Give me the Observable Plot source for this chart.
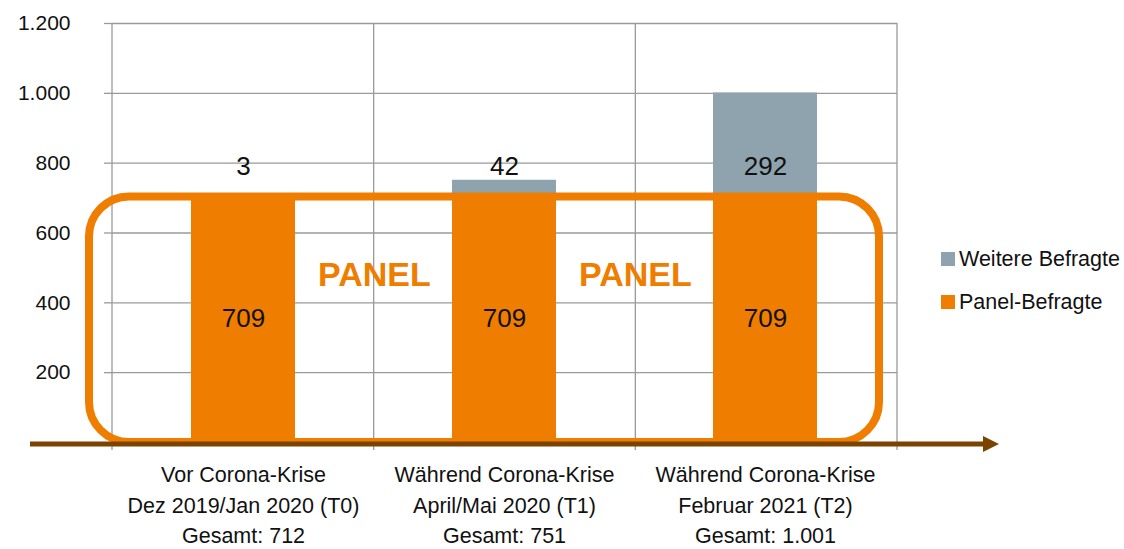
<!DOCTYPE html>
<html>
<head>
<meta charset="utf-8">
<script src="https://cdn.jsdelivr.net/npm/d3@7"></script>
<script src="https://cdn.jsdelivr.net/npm/@observablehq/plot@0.6"></script>
<style>
  html, body { margin: 0; padding: 0; background: #fff; }
  body { font-family: "Liberation Sans Narrow", "Arial Narrow", "Liberation Sans", Arial, sans-serif; }
  #wrap { position: relative; width: 1124px; height: 549px; }
  #legend { position: absolute; left: 941px; top: 245px; font-size: 21.5px; color: #111; white-space: nowrap; }
  #legend .item { display: flex; align-items: center; height: 28px; margin-bottom: 15px; }
  #legend .sw { width: 14px; height: 14px; margin-right: 4px; }
</style>
</head>
<body>
<div id="wrap"></div>
<script>
// ---- data ----
const categories = ["T0", "T1", "T2"];
const categoryLabels = [
  "Vor Corona-Krise\nDez 2019/Jan 2020 (T0)\nGesamt: 712",
  "Während Corona-Krise\nApril/Mai 2020 (T1)\nGesamt: 751",
  "Während Corona-Krise\nFebruar 2021 (T2)\nGesamt: 1.001"
];
const panelValues = [709, 709, 709];
const weitereValues = [3, 42, 292];
const seriesNames = ["Weitere Befragte", "Panel-Befragte"];
const seriesColors = ["#8FA3AE", "#EF7D00"];
const yTicks = [200, 400, 600, 800, 1000, 1200];
const panelWord = "PANEL";
const weitereLabelLevel = 790;
const panelWordLevel = 480;

// ---- derived tables ----
const rows = [
  ...categories.map((c, i) => ({cat: c, series: seriesNames[1], value: panelValues[i]})),
  ...categories.map((c, i) => ({cat: c, series: seriesNames[0], value: weitereValues[i]}))
];
const panelLabels = categories.map((c, i) => ({cat: c, y: panelValues[i] / 2, text: String(panelValues[i])}));
const weitereLabels = categories.map((c, i) => ({cat: c, y: weitereLabelLevel, text: String(weitereValues[i])}));
const panelWords = categories.slice(0, 2).map(c => ({cat: c, y: panelWordLevel, text: panelWord}));
const labelOf = Object.fromEntries(categories.map((c, i) => [c, categoryLabels[i]]));

const de = d3.formatLocale({decimal: ",", thousands: ".", grouping: [3], currency: ["", " €"]});
const fmt = de.format(",");

const ORANGE = seriesColors[1];
const GRID = "#9a9a9a";
const BROWN = "#7a4300";

const W = 1124, H = 549;
const mL = 112, mR = 227, mT = 23, mB = 107;
const step = (W - mL - mR) / categories.length;

// custom decoration: vertical separators, rounded panel box, brown arrow axis
function decor(index, scales, values, dims) {
  const g = d3.create("svg:g");
  const y = scales.y;
  const x0 = dims.marginLeft, x1 = dims.width - dims.marginRight;
  const yTop = dims.marginTop, y0 = y(0);
  for (let k = 0; k <= categories.length; k++) {
    const xx = x0 + k * (x1 - x0) / categories.length;
    g.append("line").attr("x1", xx).attr("x2", xx).attr("y1", yTop).attr("y2", y0 + 8)
      .attr("stroke", GRID).attr("stroke-width", 1.3);
  }
  return g.node();
}
function panelBox(index, scales, values, dims) {
  const g = d3.create("svg:g");
  const y = scales.y;
  const x0 = dims.marginLeft, x1 = dims.width - dims.marginRight;
  const top = y(d3.max(panelValues)) + 2;
  const bottom = y(0);
  g.append("rect")
    .attr("x", x0 - 23).attr("y", top)
    .attr("width", (x1 - 18) - (x0 - 23)).attr("height", bottom - top)
    .attr("rx", 40).attr("ry", 40)
    .attr("fill", "none").attr("stroke", ORANGE).attr("stroke-width", 8);
  return g.node();
}
function arrowAxis(index, scales, values, dims) {
  const g = d3.create("svg:g");
  const yy = scales.y(0) + 2;
  const x0 = dims.marginLeft - 82, x1 = dims.width - dims.marginRight + 88;
  g.append("line").attr("x1", x0).attr("x2", x1).attr("y1", yy).attr("y2", yy)
    .attr("stroke", BROWN).attr("stroke-width", 5);
  g.append("path").attr("d", `M${x1 - 2},${yy - 8}L${x1 + 14},${yy}L${x1 - 2},${yy + 8}Z`).attr("fill", BROWN);
  return g.node();
}

const plot = Plot.plot({
  width: W,
  height: H,
  marginLeft: mL,
  marginRight: mR,
  marginTop: mT,
  marginBottom: mB,
  style: {fontFamily: '"Liberation Sans Narrow", "Arial Narrow", "Liberation Sans", Arial, sans-serif', background: "white", color: "#111", overflow: "visible"},
  x: {domain: categories, paddingInner: 0.6, paddingOuter: 0.3, label: null},
  y: {domain: [0, 1200], label: null},
  color: {domain: seriesNames, range: seriesColors},
  marks: [
    Plot.gridY(yTicks, {stroke: GRID, strokeOpacity: 1, strokeWidth: 1.3}),
    decor,
    Plot.barY(rows, {x: "cat", y: "value", fill: "series"}),
    panelBox,
    arrowAxis,
    Plot.axisY({ticks: yTicks, tickFormat: fmt, tickSize: 8, tickPadding: 34, fontSize: 21, stroke: GRID, strokeWidth: 1.3, label: null}),
    Plot.axisX({tickSize: 0, tickPadding: 18, tickFormat: d => labelOf[d], fontSize: 21.5, lineHeight: 1.42, label: null}),
    Plot.text(panelLabels, {x: "cat", y: "y", text: "text", fontSize: 26, fill: "#111"}),
    Plot.text(weitereLabels, {x: "cat", y: "y", text: "text", fontSize: 26, fill: "#111"}),
    Plot.text(panelWords, {x: "cat", y: "y", text: "text", dx: step / 2, fontSize: 34, fontWeight: "bold", fill: ORANGE})
  ]
});

const wrap = document.getElementById("wrap");
wrap.appendChild(plot);

// legend (HTML, from series arrays)
const legend = document.createElement("div");
legend.id = "legend";
seriesNames.forEach((name, i) => {
  const item = document.createElement("div");
  item.className = "item";
  const sw = document.createElement("span");
  sw.className = "sw";
  sw.style.background = seriesColors[i];
  const t = document.createElement("span");
  t.textContent = name;
  item.appendChild(sw);
  item.appendChild(t);
  legend.appendChild(item);
});
wrap.appendChild(legend);
</script>
</body>
</html>
